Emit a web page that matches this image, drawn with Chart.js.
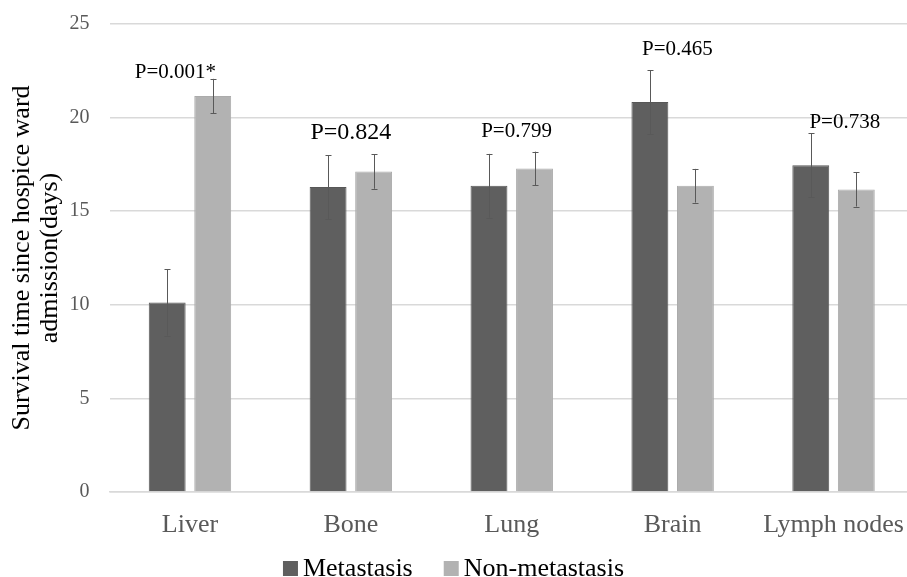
<!DOCTYPE html>
<html>
<head>
<meta charset="utf-8">
<script src="https://cdn.jsdelivr.net/npm/chart.js@4.4.0/dist/chart.umd.min.js"></script>
<style>
    html, body { margin: 0; padding: 0; overflow: hidden; background: #fff; }
    #wrap { width: 915px; height: 577px; }
</style>
</head>
<body>
<div id="wrap"><canvas id="survivalChart" width="915" height="577"></canvas></div>
<script>
// Mean survival (days) and error bar half-widths
const sites = ['Liver', 'Bone', 'Lung', 'Brain', 'Lymph nodes'];
const metastasis = [10.12, 16.29, 16.36, 20.83, 17.46];
const metastasisErr = [1.77, 1.70, 1.70, 1.71, 1.71];
const nonMetastasis = [21.15, 17.12, 17.28, 16.36, 16.16];
const nonMetastasisErr = [0.92, 0.92, 0.90, 0.90, 0.91];
const pValues = ['P=0.001*', 'P=0.824', 'P=0.799', 'P=0.465', 'P=0.738'];
const pLabelY = [22.09, 18.88, 18.99, 23.32, 19.45];
const yTicks = [0, 5, 10, 15, 20, 25];

document.addEventListener('DOMContentLoaded', function () {
    const serif = '"Liberation Serif", "Times New Roman", serif';
    Chart.defaults.font.family = serif;

    // horizontal nudges for the p-value labels, as a fraction of a category
    const pShift = [-0.09, 0, 0.03, 0.03, 0.07];
    const pSize = [21, 24, 21, 21, 21];

    // error bars, p-value text and the legend row
    const annotations = {
        id: 'annotations',
        afterDatasetsDraw(chart) {
            const ctx = chart.ctx;
            const y = chart.scales.y;
            const x = chart.scales.x;
            const errs = [metastasisErr, nonMetastasisErr];
            ctx.save();
            ctx.strokeStyle = '#595959';
            ctx.lineWidth = 1;
            chart.data.datasets.forEach((ds, di) => {
                const meta = chart.getDatasetMeta(di);
                meta.data.forEach((bar, i) => {
                    const cx = Math.round(bar.x) + 0.5;
                    const top = y.getPixelForValue(ds.data[i] + errs[di][i]);
                    const bot = y.getPixelForValue(ds.data[i] - errs[di][i]);
                    ctx.beginPath();
                    ctx.moveTo(cx, top);
                    ctx.lineTo(cx, bot);
                    ctx.moveTo(cx - 3, Math.round(top) + 0.5);
                    ctx.lineTo(cx + 3, Math.round(top) + 0.5);
                    ctx.moveTo(cx - 3, Math.round(bot) + 0.5);
                    ctx.lineTo(cx + 3, Math.round(bot) + 0.5);
                    ctx.stroke();
                });
            });

            const catW = (x.right - x.left) / sites.length;
            ctx.fillStyle = '#000';
            ctx.textAlign = 'center';
            ctx.textBaseline = 'alphabetic';
            pValues.forEach((txt, i) => {
                ctx.font = pSize[i] + 'px ' + serif;
                const px = x.getPixelForValue(i) + pShift[i] * catW;
                ctx.fillText(txt, px, y.getPixelForValue(pLabelY[i]));
            });

            // legend, centred under the 907px picture
            ctx.font = '26px ' + serif;
            ctx.textAlign = 'left';
            ctx.textBaseline = 'middle';
            const box = 15, gap = 5, between = 31;
            const items = chart.data.datasets.map(ds => ({
                label: ds.label, color: ds.backgroundColor,
                w: ctx.measureText(ds.label).width
            }));
            const total = items.reduce((s, it) => s + box + gap + it.w, 0) + between * (items.length - 1);
            let lx = 453.5 - total / 2;
            const ly = 568;
            items.forEach(it => {
                ctx.fillStyle = it.color;
                ctx.fillRect(lx, ly - 7, box, box);
                lx += box + gap;
                ctx.fillStyle = '#000';
                ctx.fillText(it.label, lx, ly + 1);
                lx += it.w + between;
            });
            ctx.restore();
        }
    };

    const ctx = document.getElementById('survivalChart').getContext('2d');
    new Chart(ctx, {
        type: 'bar',
        data: {
            labels: sites,
            datasets: [{
                label: 'Metastasis',
                data: metastasis,
                backgroundColor: '#5f5f5f',
                borderColor: '#575757',
                borderWidth: 1
            }, {
                label: 'Non-metastasis',
                data: nonMetastasis,
                backgroundColor: '#b2b2b2',
                borderColor: '#ababab',
                borderWidth: 1
            }]
        },
        options: {
            responsive: false,
            animation: false,
            categoryPercentage: 0.566,
            barPercentage: 0.81,
            layout: { padding: { left: 8, right: 1, top: 24, bottom: 5 } },
            scales: {
                x: {
                    afterFit: axis => {
                        axis.height = 80;
                        axis.paddingLeft = 0;
                        axis.paddingRight = 0;
                    },
                    grid: { display: false },
                    border: { display: true, color: '#d9d9d9', width: 1.5 },
                    ticks: {
                        color: '#595959',
                        font: { family: serif, size: 26 },
                        padding: 10
                    }
                },
                y: {
                    min: 0,
                    max: 25,
                    afterFit: axis => {
                        axis.width = 101.5;
                        axis.paddingTop = 0;
                        axis.paddingBottom = 0;
                    },
                    afterBuildTicks: axis => { axis.ticks = yTicks.map(v => ({ value: v })); },
                    grid: { color: '#d9d9d9', lineWidth: 1.5, drawTicks: false },
                    border: { display: false },
                    ticks: {
                        color: '#595959',
                        font: { family: serif, size: 20 },
                        padding: 20
                    },
                    title: {
                        display: true,
                        text: ['Survival time since hospice ward', 'admission(days)'],
                        color: '#000',
                        font: { family: serif, size: 26, lineHeight: 1.05 },
                        padding: { top: 1, bottom: 0 }
                    }
                }
            },
            plugins: {
                legend: { display: false },
                tooltip: { enabled: false }
            }
        },
        plugins: [annotations]
    });
});
</script>
</body>
</html>
